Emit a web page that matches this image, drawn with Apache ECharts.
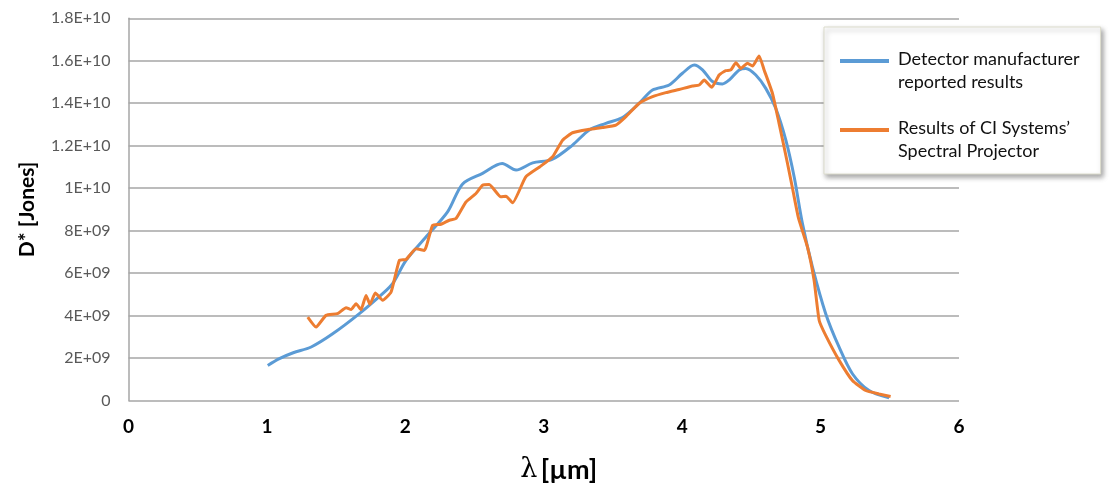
<!DOCTYPE html>
<html>
<head>
<meta charset="utf-8">
<script src="https://cdn.jsdelivr.net/npm/echarts@6/dist/echarts.min.js"></script>
<style>
html,body{margin:0;padding:0;background:#fff;}
#chart{width:1112px;height:487px;}
</style>
</head>
<body>
<div id="chart"></div>
<script>
// Wavelength (µm) and D* (units of 1E+09 Jones)
const blueX = [1.006,1.09,1.19,1.32,1.475,1.668,1.836,1.908,2.005,2.149,2.305,2.414,2.558,2.70,2.80,2.92,3.06,3.208,3.329,3.449,3.569,3.69,3.786,3.906,4.002,4.087,4.147,4.219,4.291,4.339,4.412,4.46,4.532,4.604,4.676,4.749,4.81,4.869,4.941,5.037,5.134,5.23,5.35,5.495];
const blueY = [1.65,1.97,2.25,2.52,3.14,4.09,5.03,5.5,6.6,7.7,8.88,10.2,10.7,11.16,10.85,11.19,11.35,12.03,12.74,13.05,13.33,14.0,14.62,14.86,15.41,15.80,15.57,15.02,14.91,15.09,15.57,15.64,15.33,14.70,13.76,12.26,10.5,8.33,6.29,4.09,2.51,1.26,0.47,0.13];
const orangeX = [1.295,1.355,1.427,1.51,1.572,1.608,1.644,1.68,1.716,1.745,1.783,1.836,1.897,1.957,2.005,2.077,2.137,2.197,2.258,2.318,2.366,2.438,2.51,2.558,2.606,2.69,2.727,2.775,2.87,2.97,3.064,3.136,3.208,3.329,3.425,3.521,3.594,3.69,3.786,3.882,3.978,4.075,4.123,4.159,4.214,4.267,4.315,4.352,4.388,4.424,4.472,4.508,4.556,4.592,4.652,4.70,4.76,4.80,4.84,4.905,4.953,4.99,5.037,5.134,5.23,5.326,5.422,5.506];
const orangeY = [3.93,3.46,4.01,4.09,4.37,4.28,4.56,4.28,4.95,4.53,5.06,4.72,5.11,6.6,6.64,7.15,7.07,8.25,8.3,8.49,8.57,9.35,9.75,10.14,10.17,9.59,9.62,9.31,10.53,11.0,11.48,12.26,12.61,12.77,12.86,12.97,13.37,14.0,14.31,14.50,14.65,14.81,14.86,15.09,14.75,15.33,15.53,15.57,15.91,15.64,15.88,15.75,16.23,15.57,14.47,13.05,11.2,9.9,8.6,7.23,5.66,3.77,3.07,1.89,0.94,0.47,0.31,0.19];
const yTickLabels = ['0','2E+09','4E+09','6E+09','8E+09','1E+10','1.2E+10','1.4E+10','1.6E+10','1.8E+10'];
const xTickLabels = ['0','1','2','3','4','5','6'];
const seriesNames = ['Detector manufacturer reported results', "Results of CI Systems' Spectral Projector"];
const legendLabels = ['Detector manufacturer\nreported results', 'Results of CI Systems\u2019\nSpectral Projector'];

const zip = (xs, ys) => xs.map((x, i) => [x, ys[i]]);
const BLUE = '#5B9BD5', ORANGE = '#ED7D31';

const chart = echarts.init(document.getElementById('chart'), null, {renderer: 'canvas'});
chart.setOption({
  animation: false,
  backgroundColor: '#fff',
  grid: {left: 128.5, right: 153, top: 18.3, bottom: 86.5, containLabel: false, outerBoundsMode: 'none'},
  xAxis: {
    type: 'value', min: 0, max: 6, interval: 1,
    axisLine: {show: false}, axisTick: {show: false}, splitLine: {show: false},
    axisLabel: {margin: 17, color: '#000', fontSize: 19, fontWeight: 'bold', fontFamily: 'Lato',
      formatter: v => xTickLabels[Math.round(v)]},
    name: '{l|\u03bb} {t|[\u00b5m]}', nameLocation: 'middle', nameGap: 56,
    nameTextStyle: {padding: [0, 0, 0, 30],
      rich: {
        l: {fontFamily: 'DejaVu Serif', fontSize: 27, color: '#000'},
        t: {fontFamily: 'Lato', fontWeight: 'bold', fontSize: 27, color: '#000'}
      }}
  },
  yAxis: {
    type: 'value', min: 0, max: 18, interval: 2,
    axisLine: {show: true, lineStyle: {color: '#a6a6a6', width: 1.5}},
    axisTick: {show: false},
    splitLine: {show: true, lineStyle: {color: '#a6a6a6', width: 1.5}},
    axisLabel: {margin: 18, color: '#595959', fontSize: 16, fontFamily: 'Lato',
      formatter: v => yTickLabels[Math.round(v / 2)]},
    name: 'D* [Jones]', nameLocation: 'middle', nameGap: 77,
    nameTextStyle: {fontFamily: 'Lato', fontWeight: 'bold', fontSize: 21, color: '#000', padding: [0, 0, 14, 0]}
  },
  legend: {
    orient: 'vertical', left: 824, top: 27,
    padding: [21, 21, 11, 16], itemGap: 23,
    itemWidth: 49, itemHeight: 24,
    icon: 'path://M0,0h50v4h-50z M0,24h0.01v0.01h-0.01z',
    symbolKeepAspect: false,
    backgroundColor: '#fff', borderColor: '#dcdccc', borderWidth: 1,
    shadowBlur: 5, shadowColor: 'rgba(0,0,0,0.35)', shadowOffsetX: 2, shadowOffsetY: 3,
    textStyle: {fontFamily: 'Lato', fontSize: 18, lineHeight: 23, color: '#111', padding: [0, 0, 0, 4]},
    formatter: name => legendLabels[seriesNames.indexOf(name)],
    data: seriesNames
  },
  series: [
    {name: seriesNames[0], type: 'line', data: zip(blueX, blueY), smooth: 0.3, symbol: 'none',
      lineStyle: {color: BLUE, width: 3}, itemStyle: {color: BLUE}, z: 2},
    {name: seriesNames[1], type: 'line', data: zip(orangeX, orangeY), smooth: 0.15, symbol: 'none',
      lineStyle: {color: ORANGE, width: 3}, itemStyle: {color: ORANGE}, z: 3}
  ]
});
</script>
</body>
</html>
